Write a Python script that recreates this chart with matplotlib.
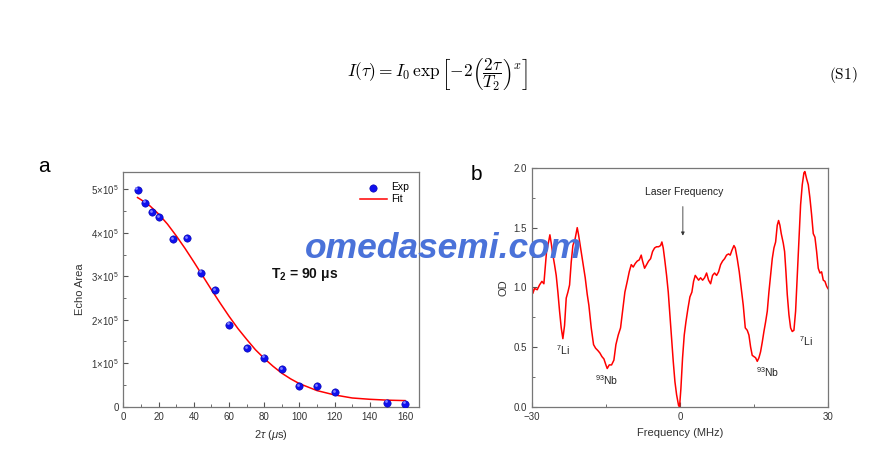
#!/usr/bin/env python3
# -*- coding: utf-8 -*-

import matplotlib
matplotlib.use("Agg")
import matplotlib.pyplot as plt
from matplotlib.ticker import MultipleLocator, FixedLocator

# ===== panel a: echo decay =====
tau_exp = [8, 12, 16, 20, 28, 36, 44, 52, 60, 70, 80, 90, 100, 110, 120, 150, 160]
area_exp = [4.99, 4.69, 4.48, 4.36, 3.86, 3.88, 3.08, 2.68, 1.89, 1.35, 1.13, 0.87,
            0.48, 0.48, 0.34, 0.09, 0.07]  # x 1e5

tau_fit = [8, 10, 15, 20, 25, 30, 35, 40, 45, 50, 55, 60, 65, 70, 75, 80, 85, 90,
           95, 100, 110, 120, 130, 140, 150, 160]
area_fit = [4.81, 4.76, 4.62, 4.43, 4.20, 3.93, 3.64, 3.33, 3.01, 2.69, 2.38, 2.08,
            1.80, 1.55, 1.31, 1.11, 0.93, 0.77, 0.64, 0.53, 0.37, 0.27, 0.20, 0.17,
            0.15, 0.14]  # x 1e5

a_yticks = [0, 1, 2, 3, 4, 5]
a_yticklabels = ["0"] + [rf"${k}{{\times}}10^5$" for k in range(1, 6)]

# ===== panel b: absorption spectrum =====
freq = [-30.0, -29.8, -29.46, -28.92, -28.45, -27.97, -27.57, -27.3, -27.03, -26.62,
        -26.35, -26.08, -25.74, -25.41, -25.07, -24.73, -24.39, -24.05, -23.72, -23.38,
        -23.04, -22.7, -22.36, -22.03, -21.69, -21.22, -20.81, -20.54, -20.13, -19.66,
        -19.19, -18.78, -18.45, -17.97, -17.5, -17.09, -16.62, -16.22, -15.81, -15.4,
        -15.0, -14.73, -14.32, -13.85, -13.38, -12.97, -12.5, -12.03, -11.62, -11.15,
        -10.67, -10.27, -9.86, -9.46, -9.05, -8.65, -8.24, -7.84, -7.57, -7.16,
        -6.76, -6.35, -5.94, -5.54, -5.13, -4.73, -4.32, -3.92, -3.65, -3.38,
        -3.04, -2.7, -2.36, -2.03, -1.69, -1.35, -1.01, -0.67, -0.27, -0.07,
        0.2, 0.54, 0.88, 1.22, 1.62, 2.03, 2.43, 2.77, 3.11, 3.45,
        3.79, 4.19, 4.6, 5.0, 5.41, 5.81, 6.22, 6.62, 7.03, 7.44,
        7.84, 8.25, 8.65, 9.06, 9.46, 9.87, 10.2, 10.54, 10.95, 11.22,
        11.62, 12.03, 12.43, 12.84, 13.25, 13.65, 13.99, 14.33, 14.66, 15.0,
        15.34, 15.68, 16.02, 16.35, 16.69, 17.03, 17.37, 17.71, 18.04, 18.38,
        18.72, 19.06, 19.4, 19.73, 20.0, 20.27, 20.54, 20.95, 21.22, 21.49,
        21.76, 22.1, 22.44, 22.77, 23.11, 23.45, 23.79, 24.13, 24.46, 24.8,
        25.14, 25.34, 25.68, 26.02, 26.35, 26.69, 27.03, 27.37, 27.71, 28.04,
        28.38, 28.72, 29.06, 29.4, 29.73, 30.0]
od = [1.03, 0.95, 0.99, 0.98, 1.02, 1.05, 1.03, 1.16, 1.30, 1.38,
      1.44, 1.37, 1.27, 1.19, 1.10, 0.96, 0.80, 0.66, 0.57, 0.68,
      0.91, 0.96, 1.02, 1.21, 1.35, 1.41, 1.50, 1.44, 1.33, 1.21,
      1.08, 0.94, 0.85, 0.66, 0.52, 0.49, 0.47, 0.45, 0.42, 0.40,
      0.35, 0.32, 0.35, 0.35, 0.39, 0.52, 0.60, 0.66, 0.80, 0.96,
      1.05, 1.13, 1.19, 1.17, 1.20, 1.22, 1.23, 1.27, 1.22, 1.16,
      1.19, 1.22, 1.24, 1.30, 1.33, 1.34, 1.34, 1.35, 1.38, 1.33,
      1.22, 1.10, 0.96, 0.77, 0.57, 0.38, 0.21, 0.10, 0.01, 0.0,
      0.15, 0.41, 0.60, 0.71, 0.82, 0.92, 0.96, 1.05, 1.10, 1.08,
      1.06, 1.08, 1.06, 1.08, 1.12, 1.06, 1.03, 1.10, 1.12, 1.10,
      1.13, 1.19, 1.22, 1.24, 1.27, 1.28, 1.27, 1.31, 1.35, 1.33,
      1.24, 1.13, 0.99, 0.85, 0.66, 0.64, 0.60, 0.50, 0.43, 0.42,
      0.41, 0.38, 0.41, 0.46, 0.54, 0.63, 0.71, 0.80, 0.96, 1.10,
      1.24, 1.33, 1.38, 1.52, 1.56, 1.52, 1.45, 1.37, 1.30, 1.13,
      0.94, 0.77, 0.66, 0.63, 0.64, 0.80, 1.10, 1.41, 1.69, 1.86,
      1.96, 1.97, 1.91, 1.86, 1.75, 1.61, 1.45, 1.42, 1.30, 1.16,
      1.12, 1.13, 1.06, 1.05, 1.01, 0.99]

peak_labels = [r"$^{7}$Li", r"$^{93}$Nb", r"$^{93}$Nb", r"$^{7}$Li"]
peak_pos = [(-23.7, 0.47), (-14.8, 0.22), (17.8, 0.29), (25.5, 0.55)]


def style_axes(ax):
    for s in ax.spines.values():
        s.set_color("#777777")
        s.set_linewidth(0.9)
    ax.tick_params(which="both", direction="in", colors="#555555",
                   labelcolor="#333333", labelsize=7, top=False, right=False)
    ax.tick_params(which="major", length=3.5)
    ax.tick_params(which="minor", length=2)


def main():
    plt.rcParams["font.family"] = ["Liberation Sans", "DejaVu Sans"]
    plt.rcParams["mathtext.fontset"] = "custom"
    plt.rcParams["mathtext.rm"] = "Liberation Sans"
    plt.rcParams["mathtext.it"] = "Liberation Sans:italic"
    plt.rcParams["mathtext.bf"] = "Liberation Sans:bold"

    fig = plt.figure(figsize=(8.85, 4.55), dpi=100)

    # equation
    fig.text(0.494, 0.835,
             r"$I(\tau) = I_0\,\exp\left[-2\left(\dfrac{2\tau}{T_2}\right)^{x}\right]$",
             ha="center", va="center", fontsize=12.5, math_fontfamily="cm")
    fig.text(0.953, 0.835, r"$(\mathrm{S1})$", ha="center", va="center",
             fontsize=11, math_fontfamily="cm")

    # ===== panel a =====
    ax1 = fig.add_axes([0.1395, 0.1062, 0.334, 0.516])
    ax1.plot(tau_fit, area_fit, color="red", lw=1.1, label="Fit", zorder=2)
    ax1.scatter(tau_exp, area_exp, s=28, color="#1010ee", edgecolor="#0000aa",
                linewidth=0.4, label="Exp", zorder=3)
    # small highlight so the dots look like spheres
    ax1.scatter([t - 0.6 for t in tau_exp], [a + 0.03 for a in area_exp], s=4,
                color="#8080ff", linewidth=0, zorder=4)
    ax1.set_xlim(0, 168)
    ax1.set_ylim(0, 5.4)
    ax1.xaxis.set_major_locator(MultipleLocator(20))
    ax1.xaxis.set_minor_locator(MultipleLocator(10))
    ax1.yaxis.set_major_locator(FixedLocator(a_yticks))
    ax1.yaxis.set_minor_locator(MultipleLocator(0.5))
    ax1.set_yticklabels(a_yticklabels)
    ax1.set_xlabel(r"2$\tau$ ($\mu$s)", fontsize=8, color="#333333", labelpad=5)
    ax1.set_ylabel("Echo Area", fontsize=8, color="#333333", labelpad=4)
    style_axes(ax1)
    handles, labels = ax1.get_legend_handles_labels()
    ax1.legend(handles[::-1], labels[::-1], loc="upper right", frameon=False,
               fontsize=7.5, handlelength=2.6, borderaxespad=0.6,
               labelspacing=0.2, handletextpad=0.4)
    ax1.text(84, 3.05, r"T$_\mathbf{2}$ = 90 $\mathbf{\mu}$s", fontsize=10,
             fontweight="bold", va="center", color="#111111")

    # ===== panel b =====
    ax2 = fig.add_axes([0.601, 0.1062, 0.3345, 0.5246])
    ax2.plot(freq, od, color="red", lw=1.1)
    ax2.set_xlim(-30, 30)
    ax2.set_ylim(0, 2.0)
    ax2.xaxis.set_major_locator(MultipleLocator(30))
    ax2.xaxis.set_minor_locator(MultipleLocator(15))
    ax2.yaxis.set_major_locator(MultipleLocator(0.5))
    ax2.yaxis.set_minor_locator(MultipleLocator(0.25))
    ax2.yaxis.set_major_formatter(plt.FuncFormatter(lambda v, p: f"{v:.1f}"))
    ax2.set_xlabel("Frequency (MHz)", fontsize=8, color="#333333", labelpad=5)
    ax2.set_ylabel("OD", fontsize=8, color="#333333", labelpad=4)
    style_axes(ax2)
    ax2.text(0.8, 1.80, "Laser Frequency", ha="center", va="center",
             fontsize=7.5, color="#222222")
    ax2.annotate("", xy=(0.6, 1.41), xytext=(0.6, 1.70),
                 arrowprops=dict(arrowstyle="-|>", color="#333333", lw=0.6,
                                 mutation_scale=5))
    for lab, (x, y) in zip(peak_labels, peak_pos):
        ax2.text(x, y, lab, ha="center", va="center", fontsize=7.5,
                 color="#222222")

    # panel letters
    fig.text(0.05, 0.635, "a", fontsize=15, ha="center", va="center")
    fig.text(0.538, 0.617, "b", fontsize=15, ha="center", va="center")

    # watermark
    fig.text(0.501, 1 - 249 / 455, "omedasemi.com", ha="center", va="center",
             fontsize=25.5, fontweight="bold", fontstyle="italic",
             color="#4a72d9", zorder=10)

    fig.savefig("out.png", dpi=100)
    plt.close(fig)


if __name__ == "__main__":
    main()
